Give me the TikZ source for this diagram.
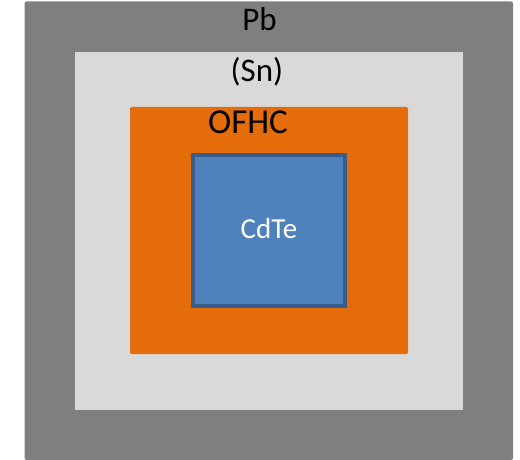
\documentclass[tikz,border=0pt]{standalone}
\usepackage{fontspec}
\setmainfont{Carlito}
\definecolor{pbgray}{HTML}{7F7F7F}
\definecolor{sngray}{HTML}{D9D9D9}
\definecolor{ofhc}{HTML}{E46C0A}
\definecolor{cdte}{HTML}{4F81BD}
\definecolor{cdteedge}{HTML}{385D8A}
\begin{document}
\begin{tikzpicture}[x=1pt,y=-1pt,
  lbl/.style={anchor=base,inner sep=0pt,font=\fontsize{33}{33}\selectfont}]
\useasboundingbox (0,0) rectangle (520,460);
\fill[pbgray,rounded corners=2pt] (24.5,1.5) coordinate (pbtl) rectangle (513,460) coordinate (pbbr);
\fill[sngray] (75,52) coordinate (sntl) rectangle (463,409.5) coordinate (snbr);
\fill[ofhc,rounded corners=1.5pt] (130,107) coordinate (oftl) rectangle (408,354) coordinate (ofbr);
\filldraw[fill=cdte,draw=cdteedge,line width=3.5pt] (193,155) coordinate (cdtl) rectangle (345,306) coordinate (cdbr);
\node[lbl] (pb) at (259.5,31) {Pb};
\node[lbl] (sn) at (257,82) {(Sn)};
\node[lbl,font=\fontsize{35}{35}\selectfont] (of) at (248,133.5) {OFHC};
\node[lbl,text=white,font=\fontsize{29}{29}\selectfont] (cd) at (269,238.5) {CdTe};
\end{tikzpicture}
\end{document}
